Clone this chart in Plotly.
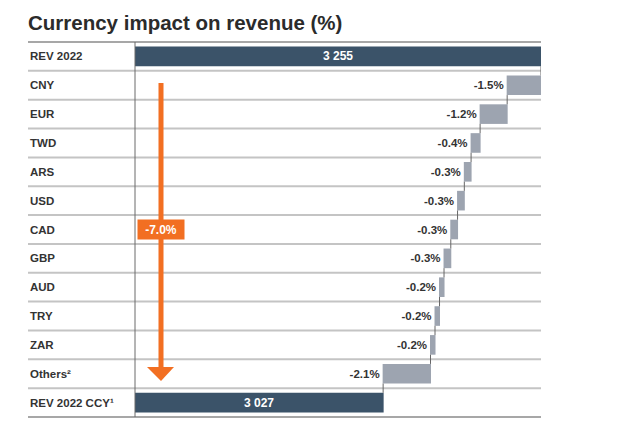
import plotly.graph_objects as go

# data
rev_2022 = 3255
currencies = ["CNY", "EUR", "TWD", "ARS", "USD", "CAD", "GBP", "AUD", "TRY", "ZAR", "Others²"]
impact_pct = [-1.5, -1.2, -0.4, -0.3, -0.3, -0.3, -0.3, -0.2, -0.2, -0.2, -2.1]
rev_ccy = 3027
total_pct = -7.0

rows = ["REV 2022"] + currencies + ["REV 2022 CCY¹"]
deltas = [p / 100 * rev_2022 for p in impact_pct]
measures = ["absolute"] + ["relative"] * len(currencies) + ["total"]
values = [rev_2022] + deltas + [0]

X_MIN = 2669  # axis is cut, bars start here


def fmt_rev(v):
    return f"{v:,}".replace(",", " ")


texts = [""] + [f"<b>{p:.1f}%</b>" for p in impact_pct] + [""]

DARK = "#3b5369"
GREY_BAR = "#9da4b0"
ORANGE = "#f26f22"
FONT = "Liberation Sans"

fig = go.Figure(go.Waterfall(
    orientation="h",
    y=rows,
    x=values,
    measure=measures,
    text=texts,
    textposition="outside",
    outsidetextfont=dict(color="#333333", size=11.5, family=FONT),
    decreasing=dict(marker=dict(color=GREY_BAR)),
    increasing=dict(marker=dict(color=GREY_BAR)),
    totals=dict(marker=dict(color=DARK)),
    connector=dict(mode="between", line=dict(color="#666666", width=1)),
    width=0.68,
    cliponaxis=False,
    hoverinfo="skip",
))

n = len(rows)
x0_label = (28 - 135) / 406

shapes = []
# row separators
for i in range(1, n):
    shapes.append(dict(type="line", xref="paper", yref="y", x0=x0_label, x1=1,
                       y0=i - 0.5, y1=i - 0.5, line=dict(color="#c4c4c4", width=2), layer="below"))
# top and bottom rules
for yy in (1, 0):
    shapes.append(dict(type="line", xref="paper", yref="paper", x0=x0_label, x1=1,
                       y0=yy, y1=yy, line=dict(color="#8a8a8a", width=1.5)))
# vertical divider
shapes.append(dict(type="line", xref="paper", yref="paper", x0=0, x1=0, y0=0, y1=1,
                   line=dict(color="#6b6b6b", width=1)))


# orange arrow
def py(pix):
    return (417 - pix) / 375


ax_x = (161 - 135) / 406
shapes.append(dict(type="line", xref="paper", yref="paper", x0=ax_x, x1=ax_x,
                   y0=py(83), y1=py(368), line=dict(color=ORANGE, width=5)))
shapes.append(dict(type="path", xref="paper", yref="paper",
                   path=f"M {(147 - 135) / 406},{py(367)} L {(174 - 135) / 406},{py(367)} "
                        f"L {ax_x},{py(381)} Z",
                   fillcolor=ORANGE, line=dict(width=0)))

annotations = []
for r in rows:
    annotations.append(dict(x=x0_label, y=r, xref="paper", yref="y", text=f"<b>{r}</b>",
                            showarrow=False, xanchor="left",
                            font=dict(size=11.5, color="#333333", family=FONT)))
# totals labels centred on the visible part of the bar
for r, v in ((rows[0], rev_2022), (rows[-1], rev_ccy)):
    annotations.append(dict(x=(X_MIN + v) / 2, y=r, xref="x", yref="y", text=f"<b>{fmt_rev(v)}</b>",
                            showarrow=False, font=dict(size=12, color="white", family=FONT)))
annotations.append(dict(x=ax_x, y="CAD", xref="paper", yref="y", text=f"<b>{total_pct:.1f}%</b>",
                        showarrow=False, bgcolor=ORANGE, borderpad=3, xanchor="center",
                        width=40, height=13,
                        font=dict(size=12, color="white", family=FONT)))

fig.update_layout(
    width=632, height=416,
    margin=dict(l=127, r=99, t=34, b=7),
    paper_bgcolor="white", plot_bgcolor="white",
    title=dict(text="<b>Currency impact on revenue (%)</b>", x=20 / 632, xanchor="left",
               y=1 - 15 / 416, yanchor="middle", font=dict(size=20.5, color="#2b2b2b", family=FONT)),
    xaxis=dict(range=[X_MIN, rev_2022], visible=False),
    yaxis=dict(range=[n - 0.5, -0.5], visible=False, type="category"),
    shapes=shapes,
    annotations=annotations,
    showlegend=False,
)

fig.write_html("out.html")
